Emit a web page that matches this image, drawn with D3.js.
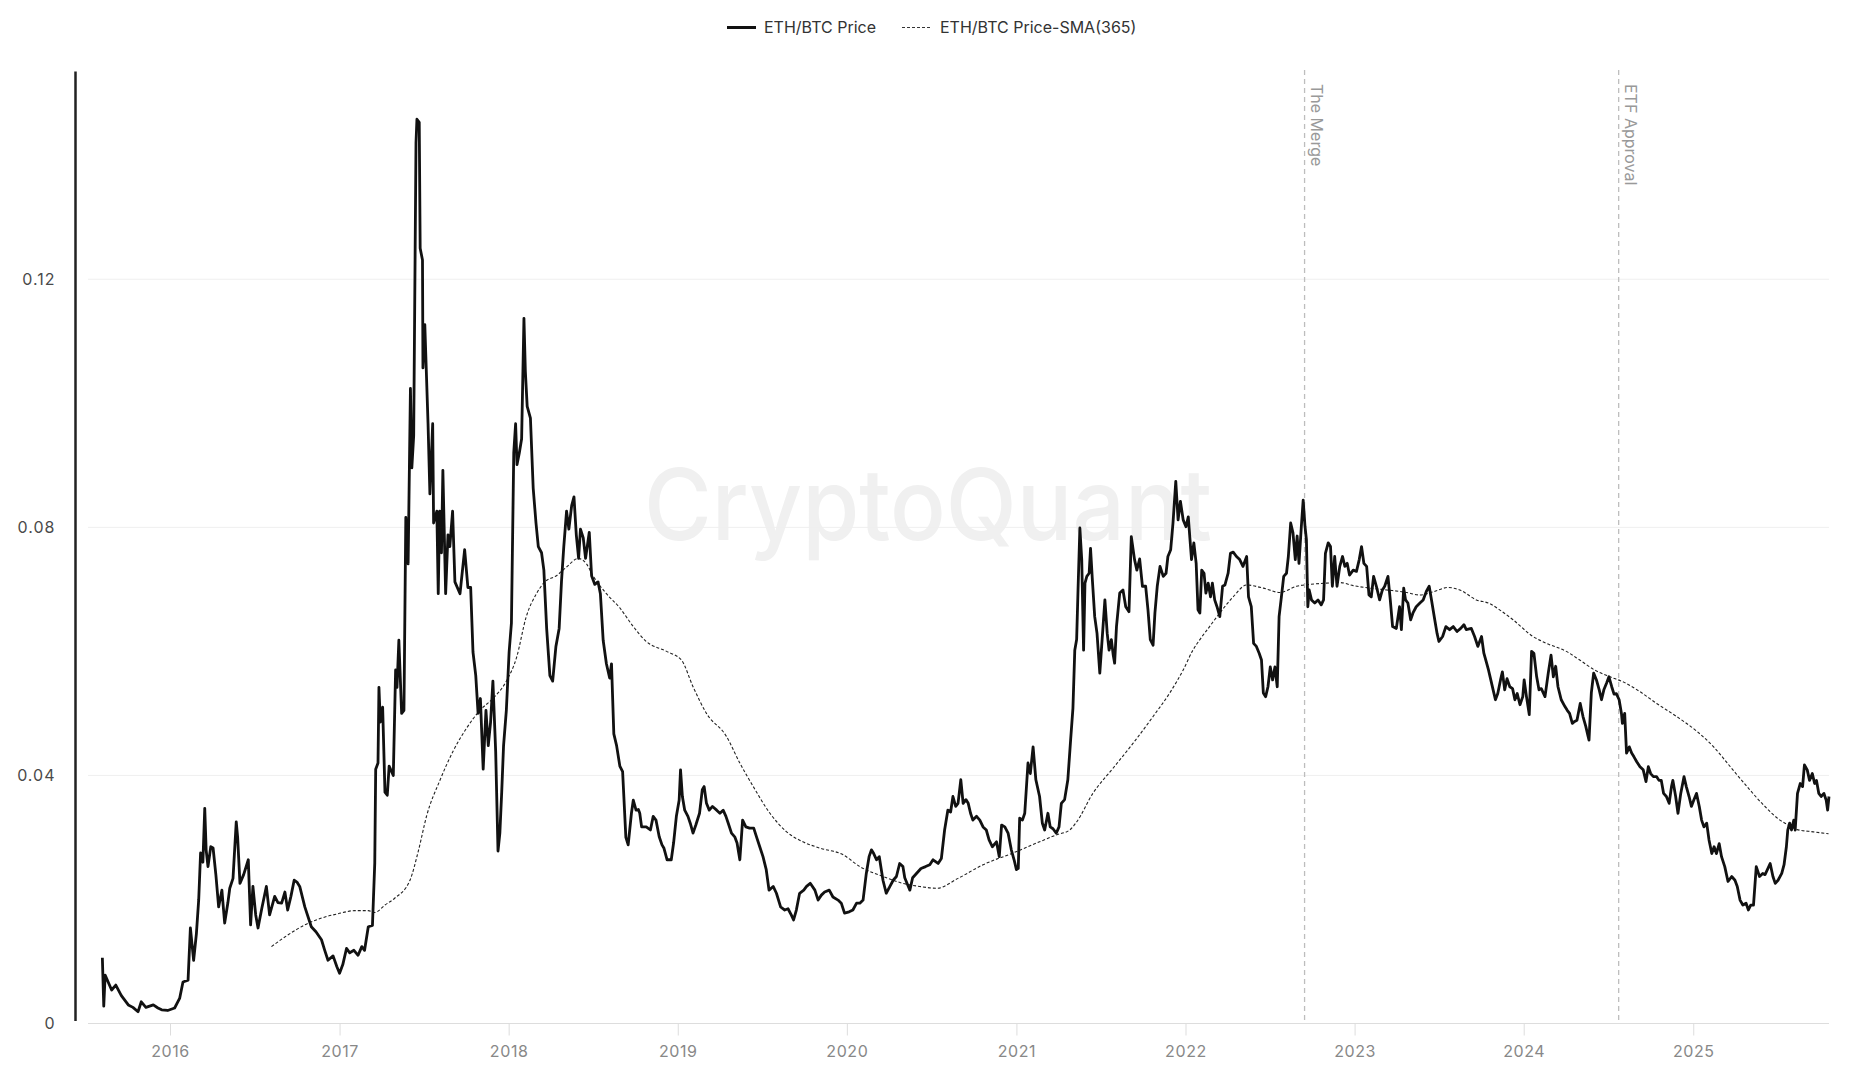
<!DOCTYPE html>
<html><head><meta charset="utf-8">
<script src="https://cdn.jsdelivr.net/npm/d3@7"></script>
<style>html,body{margin:0;padding:0;background:#fff;} svg{display:block;font-family:Inter,"Noto Sans",sans-serif;}</style>
</head><body><svg id="c" width="1849" height="1080"></svg>
<script>
// ETH/BTC daily price
const price = [
["2015-08-08",0.0106],["2015-08-11",0.0028],["2015-08-14",0.0078],["2015-08-28",0.0054],["2015-09-06",0.0062],["2015-09-18",0.0045],["2015-10-03",0.0030],["2015-10-13",0.0026],["2015-10-24",0.0019],["2015-10-31",0.0035],["2015-11-10",0.0026],["2015-11-26",0.0030],["2015-12-06",0.0025],["2015-12-14",0.0022],["2015-12-27",0.0021],
["2016-01-11",0.0025],["2016-01-22",0.0041],["2016-01-29",0.0067],["2016-02-09",0.0070],["2016-02-14",0.0154],["2016-02-21",0.0102],["2016-02-27",0.0145],["2016-03-03",0.0200],["2016-03-07",0.0275],["2016-03-12",0.0260],["2016-03-16",0.0347],["2016-03-19",0.0280],["2016-03-23",0.0253],["2016-03-29",0.0285],["2016-04-03",0.0283],["2016-04-09",0.0240],["2016-04-15",0.0188],["2016-04-22",0.0215],["2016-04-28",0.0162],["2016-05-05",0.0195],["2016-05-09",0.0218],["2016-05-16",0.0234],["2016-05-23",0.0325],["2016-05-26",0.0300],["2016-05-31",0.0226],["2016-06-08",0.0240],["2016-06-18",0.0264],["2016-06-23",0.0159],["2016-06-28",0.0221],["2016-07-04",0.0175],["2016-07-09",0.0154],["2016-07-17",0.0185],["2016-07-27",0.0221],["2016-08-03",0.0175],["2016-08-14",0.0205],["2016-08-21",0.0195],["2016-08-29",0.0194],["2016-09-05",0.0212],["2016-09-11",0.0183],["2016-09-18",0.0205],["2016-09-25",0.0231],["2016-10-01",0.0228],["2016-10-07",0.0221],["2016-10-18",0.0188],["2016-11-01",0.0156],["2016-11-11",0.0148],["2016-11-23",0.0135],["2016-11-30",0.0118],["2016-12-07",0.0102],["2016-12-18",0.0109],["2016-12-26",0.0092],
["2017-01-01",0.0081],["2017-01-08",0.0095],["2017-01-16",0.0121],["2017-01-23",0.0114],["2017-02-01",0.0118],["2017-02-10",0.0110],["2017-02-18",0.0124],["2017-02-24",0.0118],["2017-03-04",0.0156],["2017-03-13",0.0158],["2017-03-18",0.0259],["2017-03-20",0.0410],["2017-03-25",0.0420],["2017-03-27",0.0542],["2017-03-30",0.0486],["2017-04-04",0.0510],["2017-04-09",0.0373],["2017-04-14",0.0368],["2017-04-18",0.0415],["2017-04-27",0.0400],["2017-05-02",0.0570],["2017-05-05",0.0542],["2017-05-09",0.0618],["2017-05-15",0.0500],["2017-05-20",0.0505],["2017-05-24",0.0816],["2017-05-29",0.0741],["2017-06-03",0.1024],["2017-06-06",0.0896],["2017-06-10",0.0948],["2017-06-15",0.1420],["2017-06-17",0.1458],["2017-06-22",0.1453],["2017-06-24",0.1250],["2017-06-29",0.1231],["2017-06-30",0.1057],["2017-07-04",0.1127],["2017-07-11",0.0967],["2017-07-15",0.0854],["2017-07-21",0.0967],["2017-07-23",0.0807],["2017-07-30",0.0826],["2017-08-02",0.0693],["2017-08-05",0.0826],["2017-08-09",0.0759],["2017-08-12",0.0892],["2017-08-18",0.0693],["2017-08-23",0.0788],["2017-08-27",0.0769],["2017-09-02",0.0826],["2017-09-07",0.0712],["2017-09-18",0.0693],["2017-09-28",0.0764],["2017-10-05",0.0703],["2017-10-11",0.0703],["2017-10-16",0.0599],["2017-10-22",0.0561],["2017-10-27",0.0500],["2017-11-01",0.0524],["2017-11-07",0.0410],["2017-11-13",0.0505],["2017-11-18",0.0448],["2017-11-23",0.0486],["2017-11-28",0.0552],["2017-12-04",0.0438],["2017-12-09",0.0278],["2017-12-13",0.0307],["2017-12-17",0.0373],["2017-12-21",0.0448],["2017-12-27",0.0505],
["2018-01-02",0.0599],["2018-01-07",0.0646],["2018-01-12",0.0920],["2018-01-16",0.0967],["2018-01-19",0.0901],["2018-01-24",0.0920],["2018-01-29",0.0943],["2018-02-03",0.1137],["2018-02-06",0.1052],["2018-02-10",0.0995],["2018-02-17",0.0976],["2018-02-23",0.0863],["2018-03-01",0.0807],["2018-03-06",0.0769],["2018-03-13",0.0759],["2018-03-18",0.0731],["2018-03-24",0.0637],["2018-03-31",0.0561],["2018-04-06",0.0552],["2018-04-13",0.0608],["2018-04-20",0.0637],["2018-04-25",0.0712],["2018-04-30",0.0769],["2018-05-06",0.0826],["2018-05-11",0.0797],["2018-05-17",0.0835],["2018-05-22",0.0849],["2018-05-27",0.0788],["2018-06-01",0.0750],["2018-06-05",0.0797],["2018-06-11",0.0783],["2018-06-16",0.0750],["2018-06-24",0.0792],["2018-06-29",0.0722],["2018-07-06",0.0708],["2018-07-13",0.0712],["2018-07-18",0.0693],["2018-07-24",0.0618],["2018-07-31",0.0580],["2018-08-07",0.0557],["2018-08-11",0.0580],["2018-08-16",0.0467],["2018-08-22",0.0448],["2018-08-29",0.0415],["2018-09-04",0.0406],["2018-09-11",0.0300],["2018-09-16",0.0288],["2018-09-23",0.0339],["2018-09-27",0.0360],["2018-10-03",0.0344],["2018-10-08",0.0345],["2018-10-11",0.0339],["2018-10-15",0.0317],["2018-10-25",0.0317],["2018-11-03",0.0312],["2018-11-09",0.0334],["2018-11-15",0.0328],["2018-11-22",0.0301],["2018-11-28",0.0288],["2018-12-02",0.0283],["2018-12-09",0.0264],["2018-12-18",0.0264],["2018-12-23",0.0291],["2018-12-29",0.0334],
["2019-01-04",0.0360],["2019-01-07",0.0409],["2019-01-11",0.0366],["2019-01-16",0.0344],["2019-01-23",0.0334],["2019-01-28",0.0323],["2019-02-03",0.0307],["2019-02-09",0.0320],["2019-02-17",0.0339],["2019-02-23",0.0377],["2019-02-27",0.0382],["2019-03-04",0.0355],["2019-03-10",0.0344],["2019-03-17",0.0350],["2019-03-26",0.0344],["2019-04-02",0.0339],["2019-04-09",0.0344],["2019-04-15",0.0334],["2019-04-20",0.0323],["2019-04-27",0.0307],["2019-05-04",0.0301],["2019-05-09",0.0291],["2019-05-15",0.0264],["2019-05-21",0.0328],["2019-05-28",0.0317],["2019-06-05",0.0315],["2019-06-14",0.0315],["2019-06-20",0.0301],["2019-06-27",0.0285],["2019-07-04",0.0269],["2019-07-11",0.0248],["2019-07-17",0.0215],["2019-07-26",0.0221],["2019-08-02",0.0210],["2019-08-11",0.0188],["2019-08-20",0.0183],["2019-08-27",0.0185],["2019-09-03",0.0175],["2019-09-08",0.0167],["2019-09-14",0.0183],["2019-09-21",0.0210],["2019-09-30",0.0215],["2019-10-06",0.0221],["2019-10-14",0.0226],["2019-10-24",0.0215],["2019-10-31",0.0199],["2019-11-07",0.0207],["2019-11-14",0.0212],["2019-11-24",0.0215],["2019-12-02",0.0204],["2019-12-13",0.0199],["2019-12-20",0.0194],["2019-12-27",0.0178],
["2020-01-06",0.0180],["2020-01-14",0.0183],["2020-01-22",0.0194],["2020-01-29",0.0194],["2020-02-05",0.0199],["2020-02-12",0.0242],["2020-02-18",0.0269],["2020-02-23",0.0280],["2020-02-28",0.0274],["2020-03-05",0.0264],["2020-03-11",0.0269],["2020-03-19",0.0231],["2020-03-26",0.0210],["2020-04-03",0.0221],["2020-04-10",0.0231],["2020-04-17",0.0237],["2020-04-24",0.0258],["2020-05-01",0.0253],["2020-05-05",0.0235],["2020-05-16",0.0215],["2020-05-22",0.0235],["2020-06-09",0.0250],["2020-06-19",0.0253],["2020-06-28",0.0256],["2020-07-05",0.0264],["2020-07-16",0.0258],["2020-07-23",0.0266],["2020-07-30",0.0312],["2020-08-06",0.0344],["2020-08-12",0.0341],["2020-08-17",0.0366],["2020-08-23",0.0350],["2020-08-28",0.0355],["2020-09-03",0.0393],["2020-09-08",0.0355],["2020-09-14",0.0361],["2020-09-19",0.0355],["2020-09-24",0.0339],["2020-09-29",0.0328],["2020-10-07",0.0334],["2020-10-14",0.0328],["2020-10-21",0.0317],["2020-10-28",0.0312],["2020-11-03",0.0296],["2020-11-10",0.0285],["2020-11-19",0.0293],["2020-11-25",0.0269],["2020-11-30",0.0320],["2020-12-07",0.0317],["2020-12-14",0.0307],["2020-12-21",0.0280],["2020-12-27",0.0264],
["2021-01-01",0.0248],["2021-01-05",0.0250],["2021-01-08",0.0331],["2021-01-14",0.0328],["2021-01-19",0.0339],["2021-01-26",0.0420],["2021-01-31",0.0403],["2021-02-06",0.0446],["2021-02-12",0.0393],["2021-02-20",0.0366],["2021-02-26",0.0323],["2021-03-03",0.0312],["2021-03-10",0.0339],["2021-03-15",0.0317],["2021-03-21",0.0314],["2021-03-28",0.0307],["2021-04-03",0.0317],["2021-04-08",0.0355],["2021-04-15",0.0361],["2021-04-22",0.0393],["2021-04-28",0.0457],["2021-05-03",0.0508],["2021-05-07",0.0602],["2021-05-11",0.0619],["2021-05-14",0.0699],["2021-05-18",0.0799],["2021-05-22",0.0748],["2021-05-26",0.0602],["2021-05-29",0.0710],["2021-06-02",0.0721],["2021-06-07",0.0726],["2021-06-10",0.0766],["2021-06-14",0.0715],["2021-06-19",0.0656],["2021-06-24",0.0629],["2021-06-30",0.0565],["2021-07-05",0.0619],["2021-07-11",0.0683],["2021-07-16",0.0629],["2021-07-20",0.0602],["2021-07-25",0.0619],["2021-07-29",0.0594],["2021-08-01",0.0581],["2021-08-05",0.0640],["2021-08-12",0.0694],["2021-08-19",0.0699],["2021-08-25",0.0672],["2021-09-01",0.0664],["2021-09-06",0.0785],["2021-09-13",0.0748],["2021-09-18",0.0731],["2021-09-24",0.0749],["2021-09-30",0.0705],["2021-10-07",0.0705],["2021-10-12",0.0667],["2021-10-17",0.0619],["2021-10-23",0.0610],["2021-10-27",0.0662],["2021-11-01",0.0705],["2021-11-07",0.0737],["2021-11-14",0.0721],["2021-11-20",0.0726],["2021-11-24",0.0753],["2021-11-30",0.0764],["2021-12-05",0.0807],["2021-12-11",0.0874],["2021-12-16",0.0812],["2021-12-21",0.0842],["2021-12-27",0.0812],
["2022-01-02",0.0801],["2022-01-07",0.0817],["2022-01-14",0.0748],["2022-01-19",0.0775],["2022-01-24",0.0742],["2022-01-28",0.0667],["2022-02-01",0.0662],["2022-02-05",0.0731],["2022-02-10",0.0726],["2022-02-14",0.0694],["2022-02-19",0.0710],["2022-02-24",0.0688],["2022-02-28",0.0710],["2022-03-05",0.0683],["2022-03-10",0.0672],["2022-03-16",0.0656],["2022-03-22",0.0705],["2022-03-27",0.0707],["2022-04-03",0.0726],["2022-04-08",0.0758],["2022-04-14",0.0760],["2022-04-21",0.0753],["2022-04-28",0.0748],["2022-05-05",0.0737],["2022-05-13",0.0753],["2022-05-17",0.0688],["2022-05-23",0.0672],["2022-05-28",0.0613],["2022-06-03",0.0608],["2022-06-09",0.0597],["2022-06-14",0.0586],["2022-06-18",0.0533],["2022-06-23",0.0527],["2022-06-28",0.0543],["2022-07-03",0.0575],["2022-07-08",0.0554],["2022-07-13",0.0575],["2022-07-18",0.0543],["2022-07-22",0.0656],["2022-07-27",0.0688],["2022-08-01",0.0721],["2022-08-07",0.0726],["2022-08-11",0.0753],["2022-08-16",0.0807],["2022-08-21",0.0791],["2022-08-26",0.0748],["2022-08-30",0.0786],["2022-09-03",0.0742],["2022-09-08",0.0801],["2022-09-12",0.0844],["2022-09-16",0.0801],["2022-09-19",0.0780],["2022-09-22",0.0672],["2022-09-25",0.0699],["2022-09-30",0.0683],["2022-10-07",0.0678],["2022-10-14",0.0683],["2022-10-21",0.0675],["2022-10-26",0.0683],["2022-10-30",0.0758],["2022-11-05",0.0775],["2022-11-10",0.0769],["2022-11-14",0.0705],["2022-11-19",0.0753],["2022-11-24",0.0705],["2022-11-30",0.0737],["2022-12-06",0.0753],["2022-12-11",0.0737],["2022-12-16",0.0742],["2022-12-21",0.0723],["2022-12-29",0.0731],
["2023-01-05",0.0729],["2023-01-11",0.0748],["2023-01-16",0.0769],["2023-01-21",0.0742],["2023-01-27",0.0737],["2023-02-01",0.0691],["2023-02-06",0.0688],["2023-02-11",0.0721],["2023-02-17",0.0705],["2023-02-24",0.0683],["2023-03-02",0.0699],["2023-03-07",0.0705],["2023-03-14",0.0721],["2023-03-19",0.0683],["2023-03-24",0.0640],["2023-04-01",0.0637],["2023-04-08",0.0672],["2023-04-12",0.0635],["2023-04-17",0.0702],["2023-04-21",0.0683],["2023-04-26",0.0678],["2023-05-02",0.0651],["2023-05-07",0.0662],["2023-05-14",0.0672],["2023-05-22",0.0678],["2023-05-29",0.0683],["2023-06-05",0.0697],["2023-06-11",0.0705],["2023-06-16",0.0683],["2023-06-23",0.0651],["2023-06-28",0.0629],["2023-07-02",0.0616],["2023-07-10",0.0624],["2023-07-17",0.0640],["2023-07-25",0.0635],["2023-08-02",0.0640],["2023-08-10",0.0632],["2023-08-18",0.0637],["2023-08-25",0.0643],["2023-08-30",0.0635],["2023-09-10",0.0637],["2023-09-17",0.0624],["2023-09-24",0.0608],["2023-10-02",0.0624],["2023-10-07",0.0597],["2023-10-13",0.0581],["2023-10-17",0.0570],["2023-10-22",0.0554],["2023-10-27",0.0538],["2023-11-01",0.0522],["2023-11-06",0.0532],["2023-11-12",0.0554],["2023-11-16",0.0567],["2023-11-21",0.0538],["2023-11-26",0.0556],["2023-12-02",0.0543],["2023-12-08",0.0540],["2023-12-13",0.0522],["2023-12-18",0.0532],["2023-12-24",0.0514],["2023-12-30",0.0527],
["2024-01-02",0.0554],["2024-01-07",0.0527],["2024-01-13",0.0498],["2024-01-18",0.0600],["2024-01-23",0.0597],["2024-01-29",0.0559],["2024-02-03",0.0538],["2024-02-08",0.0540],["2024-02-16",0.0527],["2024-02-23",0.0565],["2024-02-29",0.0594],["2024-03-05",0.0559],["2024-03-10",0.0576],["2024-03-15",0.0543],["2024-03-22",0.0522],["2024-03-30",0.0511],["2024-04-04",0.0505],["2024-04-09",0.0500],["2024-04-15",0.0484],["2024-04-20",0.0487],["2024-04-25",0.0489],["2024-05-02",0.0516],["2024-05-08",0.0495],["2024-05-14",0.0479],["2024-05-19",0.0463],["2024-05-21",0.0457],["2024-05-26",0.0533],["2024-05-31",0.0565],["2024-06-06",0.0554],["2024-06-12",0.0538],["2024-06-17",0.0522],["2024-06-22",0.0538],["2024-06-28",0.0549],["2024-07-03",0.0559],["2024-07-09",0.0543],["2024-07-14",0.0531],["2024-07-19",0.0532],["2024-07-25",0.0522],["2024-07-30",0.0500],["2024-08-01",0.0484],["2024-08-06",0.0500],["2024-08-10",0.0436],["2024-08-16",0.0446],["2024-08-21",0.0436],["2024-08-26",0.0430],["2024-09-01",0.0422],["2024-09-08",0.0414],["2024-09-15",0.0409],["2024-09-21",0.0390],["2024-09-26",0.0414],["2024-10-01",0.0403],["2024-10-07",0.0398],["2024-10-14",0.0398],["2024-10-19",0.0392],["2024-10-24",0.0392],["2024-10-29",0.0371],["2024-11-04",0.0366],["2024-11-10",0.0355],["2024-11-15",0.0382],["2024-11-18",0.0392],["2024-11-24",0.0366],["2024-11-29",0.0339],["2024-12-05",0.0371],["2024-12-12",0.0398],["2024-12-17",0.0382],["2024-12-23",0.0366],["2024-12-28",0.0350],
["2025-01-02",0.0360],["2025-01-08",0.0371],["2025-01-14",0.0350],["2025-01-19",0.0328],["2025-01-24",0.0317],["2025-01-30",0.0323],["2025-02-04",0.0296],["2025-02-10",0.0274],["2025-02-15",0.0285],["2025-02-20",0.0274],["2025-02-26",0.0290],["2025-03-03",0.0269],["2025-03-10",0.0253],["2025-03-17",0.0229],["2025-03-25",0.0237],["2025-04-01",0.0231],["2025-04-06",0.0221],["2025-04-12",0.0199],["2025-04-18",0.0191],["2025-04-25",0.0194],["2025-04-30",0.0183],["2025-05-05",0.0191],["2025-05-11",0.0191],["2025-05-17",0.0253],["2025-05-24",0.0237],["2025-05-31",0.0242],["2025-06-05",0.0240],["2025-06-10",0.0248],["2025-06-16",0.0258],["2025-06-22",0.0237],["2025-06-27",0.0226],["2025-07-03",0.0231],["2025-07-11",0.0242],["2025-07-16",0.0256],["2025-07-21",0.0285],["2025-07-24",0.0312],["2025-07-28",0.0323],["2025-08-01",0.0312],["2025-08-06",0.0328],["2025-08-09",0.0312],["2025-08-14",0.0371],["2025-08-20",0.0387],["2025-08-25",0.0382],["2025-08-29",0.0417],["2025-09-04",0.0409],["2025-09-09",0.0392],["2025-09-15",0.0403],["2025-09-20",0.0387],["2025-09-24",0.0392],["2025-09-29",0.0371],["2025-10-04",0.0366],["2025-10-10",0.0371],["2025-10-15",0.0360],["2025-10-18",0.0344],["2025-10-21",0.0366]
];

// 365-day simple moving average
const sma = [
["2016-08-07",0.0124],["2016-09-12",0.0143],["2016-10-18",0.0159],["2016-11-23",0.0170],["2016-12-29",0.0177],["2017-02-03",0.0182],["2017-03-04",0.0182],["2017-03-18",0.0179],["2017-04-09",0.0191],["2017-04-30",0.0202],["2017-06-02",0.0231],["2017-06-20",0.0278],["2017-07-08",0.0335],["2017-08-05",0.0391],["2017-09-03",0.0439],["2017-10-02",0.0476],["2017-10-31",0.0505],["2017-11-28",0.0524],["2017-12-27",0.0552],["2018-01-18",0.0590],["2018-02-08",0.0656],["2018-03-02",0.0693],["2018-03-20",0.0712],["2018-04-14",0.0722],["2018-05-06",0.0736],["2018-05-31",0.0750],["2018-06-18",0.0741],["2018-07-02",0.0722],["2018-07-31",0.0693],["2018-08-29",0.0670],["2018-09-27",0.0640],["2018-10-25",0.0616],["2018-12-08",0.0600],["2019-01-09",0.0586],["2019-02-03",0.0543],["2019-03-04",0.0500],["2019-04-16",0.0463],["2019-05-15",0.0420],["2019-06-13",0.0382],["2019-07-19",0.0339],["2019-08-24",0.0309],["2019-09-28",0.0293],["2019-11-03",0.0283],["2019-12-24",0.0272],["2020-01-29",0.0253],["2020-03-19",0.0237],["2020-05-01",0.0226],["2020-06-06",0.0221],["2020-07-13",0.0218],["2020-08-28",0.0234],["2020-10-21",0.0256],["2020-12-25",0.0275],["2021-02-20",0.0293],["2021-03-28",0.0304],["2021-04-26",0.0312],["2021-05-11",0.0325],["2021-06-15",0.0371],["2021-07-29",0.0412],["2021-09-10",0.0452],["2021-10-23",0.0495],["2021-11-28",0.0533],["2021-12-27",0.0570],["2022-01-17",0.0602],["2022-02-01",0.0619],["2022-02-22",0.0640],["2022-03-16",0.0662],["2022-04-14",0.0688],["2022-05-13",0.0707],["2022-06-18",0.0702],["2022-07-24",0.0695],["2022-08-29",0.0705],["2022-09-26",0.0708],["2022-11-01",0.0710],["2022-11-30",0.0711],["2022-12-29",0.0706],["2023-02-03",0.0702],["2023-03-11",0.0699],["2023-04-16",0.0696],["2023-05-22",0.0691],["2023-06-19",0.0696],["2023-07-22",0.0703],["2023-08-16",0.0699],["2023-09-21",0.0683],["2023-10-20",0.0677],["2023-11-10",0.0667],["2023-12-09",0.0651],["2024-01-21",0.0624],["2024-02-19",0.0613],["2024-04-02",0.0600],["2024-05-01",0.0586],["2024-06-02",0.0570],["2024-07-05",0.0559],["2024-08-02",0.0551],["2024-09-08",0.0535],["2024-10-14",0.0516],["2024-11-26",0.0495],["2025-01-09",0.0471],["2025-02-14",0.0446],["2025-03-22",0.0414],["2025-04-27",0.0382],["2025-06-02",0.0352],["2025-07-07",0.0328],["2025-07-25",0.0320],["2025-08-12",0.0313],["2025-09-17",0.0309],["2025-10-20",0.0306]
];

const yearTicks = ["2016","2017","2018","2019","2020","2021","2022","2023","2024","2025"];
const yTicks = [0, 0.04, 0.08, 0.12];
const yTickLabels = ["0", "0.04", "0.08", "0.12"];
const events = [["2022-09-15","The Merge"],["2024-07-24","ETF Approval"]];
const legendLabels = ["ETH/BTC Price","ETH/BTC Price-SMA(365)"];

const parse = d3.timeParse("%Y-%m-%d");
const svg = d3.select("#c");
const x = d3.scaleTime().domain([parse("2015-07-08"), parse("2025-10-21")]).range([88, 1829]);
const y = d3.scaleLinear().domain([0, 0.1535]).range([1023.5, 71.5]);

// watermark
svg.append("text").attr("x", 644).attr("y", 540).attr("textLength", 568).attr("lengthAdjust","spacingAndGlyphs")
  .attr("font-size", 99).attr("font-weight", 500).attr("fill", "#f0f0f0").text("CryptoQuant");

// gridlines
svg.append("g").selectAll("line").data(yTicks.slice(1)).join("line")
  .attr("x1", 88).attr("x2", 1829).attr("y1", d => y(d)).attr("y2", d => y(d))
  .attr("stroke", "#efefef").attr("stroke-width", 1);

// x axis
const xAxis = d3.axisBottom(x).tickValues(yearTicks.map(t => parse(t + "-01-01"))).tickFormat(d3.timeFormat("%Y")).tickSize(12).tickPadding(10);
const gx = svg.append("g").attr("transform", "translate(0,1023.5)").call(xAxis);
gx.select(".domain").attr("stroke", "#dddddd").attr("d", "M88,0H1829");
gx.selectAll(".tick line").attr("stroke", "#dddddd");
gx.selectAll(".tick text").attr("fill", "#888").attr("font-size", 16).attr("letter-spacing", "0.6px").attr("font-family", "Inter, sans-serif");

// y axis
const yAxis = d3.axisLeft(y).tickValues(yTicks).tickFormat((d, i) => yTickLabels[i]).tickSize(0).tickPadding(20);
const gy = svg.append("g").attr("transform", "translate(75.5,0)").call(yAxis);
gy.select(".domain").attr("stroke", "#222").attr("stroke-width", 2.5).attr("d", "M0,71.5V1021");
gy.selectAll(".tick text").attr("fill", "#4a4a4a").attr("font-size", 16).attr("letter-spacing", "1px").attr("font-family", "Inter, sans-serif");

// event lines
const ev = svg.append("g").selectAll("g").data(events).join("g");
ev.append("line").attr("x1", d => x(parse(d[0]))).attr("x2", d => x(parse(d[0])))
  .attr("y1", 70).attr("y2", 1023).attr("stroke", "#bdbdbd").attr("stroke-width", 1.3).attr("stroke-dasharray", "5,4");
ev.append("text").attr("transform", d => `translate(${x(parse(d[0])) + 6},84) rotate(90)`)
  .attr("font-size", 16).attr("fill", "#999").text(d => d[1]);

// SMA line
const line = d3.line().x(d => x(parse(d[0]))).y(d => y(d[1]));
svg.append("path").datum(sma).attr("fill", "none").attr("stroke", "#222").attr("stroke-width", 1.1)
  .attr("stroke-dasharray", "3,2").attr("d", line.curve(d3.curveMonotoneX));

// price line
const line2 = d3.line().x(d => x(parse(d[0]))).y(d => y(d[1]));
svg.append("path").datum(price).attr("fill", "none").attr("stroke", "#111").attr("stroke-width", 2.8)
  .attr("stroke-linejoin", "round").attr("d", line2);

// legend
const lg = svg.append("g");
lg.append("line").attr("x1", 727).attr("x2", 756).attr("y1", 27.5).attr("y2", 27.5).attr("stroke", "#111").attr("stroke-width", 3);
lg.append("text").attr("x", 764).attr("y", 33).attr("font-size", 16).attr("fill", "#333").text(legendLabels[0]);
lg.append("line").attr("x1", 902).attr("x2", 932).attr("y1", 27.5).attr("y2", 27.5).attr("stroke", "#333").attr("stroke-width", 1.1).attr("stroke-dasharray", "3,2");
lg.append("text").attr("x", 940).attr("y", 33).attr("font-size", 16).attr("fill", "#333").text(legendLabels[1]);
</script></body></html>
